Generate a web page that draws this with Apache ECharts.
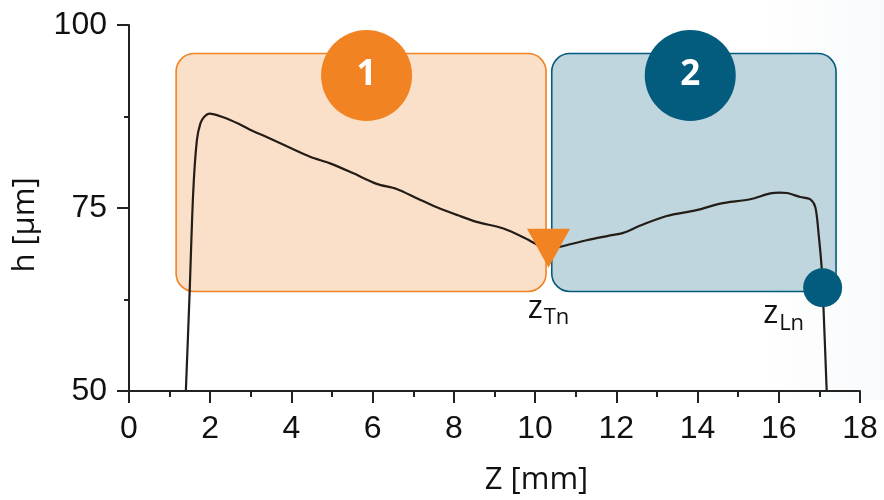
<!DOCTYPE html>
<html>
<head>
<meta charset="utf-8">
<title>Height profile h(Z)</title>
<script src="https://cdn.jsdelivr.net/npm/echarts@6/dist/echarts.min.js"></script>
<style>
  html, body { margin: 0; padding: 0; background: #ffffff; }
  #chart { width: 884px; height: 500px; }
</style>
</head>
<body>
<div id="chart"></div>
<script>
// Measured profile: position along the track Z [mm] and height h [µm]
const profileZ = [1.40, 1.49, 1.58, 1.67, 1.76, 1.86, 1.98, 2.32, 2.70, 2.98, 3.39, 3.90,
  4.46, 4.95, 5.50, 6.10, 6.59, 7.10, 7.58, 8.10, 8.56, 9.22, 9.71, 10.12, 10.33, 10.62,
  11.27, 11.80, 12.17, 12.59, 13.24, 13.98, 14.56, 15.30, 15.79, 16.03, 16.20, 16.53,
  16.77, 16.90, 16.98, 17.06, 17.10, 17.18];
const profileH = [50.0, 63.0, 77.0, 84.2, 86.6, 87.5, 87.9, 87.4, 86.5, 85.7, 84.7, 83.4,
  82.0, 81.1, 79.8, 78.3, 77.6, 76.3, 75.1, 74.0, 73.1, 72.2, 71.0, 69.8, 69.4, 69.7,
  70.6, 71.2, 71.6, 72.6, 73.9, 74.7, 75.6, 76.2, 77.0, 77.1, 77.05, 76.5,
  76.2, 75.1, 71.5, 66.5, 61.5, 50.0];

// Zones 1 and 2 (Z range and h range)
const zoneNames = ['1', '2'];
const zoneStartZ = [1.16, 10.41];
const zoneEndZ = [10.27, 17.41];
const zoneLowH = [63.6, 63.6];
const zoneHighH = [96.1, 96.1];
const zoneBadgeZ = [5.85, 13.82];
const zoneBadgeH = [93.1, 93.1];

// Characteristic points z_Tn (transition) and z_Ln (end)
const zTn = [10.33, 69.5];
const zLn = [17.08, 64.1];

// Axis ticks
const zTicks = { min: 0, max: 18, step: 2 };
const hTicks = { min: 50, max: 100, step: 25 };

const ORANGE = '#F28322';
const ORANGE_FILL = '#FBE0C9';
const BLUE = '#035C7E';
const BLUE_FILL = '#BFD6DE';
const zoneStroke = [ORANGE, BLUE];
const zoneFill = [ORANGE_FILL, BLUE_FILL];

const chart = echarts.init(document.getElementById('chart'), null, { renderer: 'canvas' });

const tickFont = 'Liberation Sans, Arial, sans-serif';
const titleFont = 'Open Sans, sans-serif';

// "z" with a lowered subscript: both tokens top-aligned, subscript pushed down by padding
const subLabelRich = {
  z: { fontFamily: titleFont, fontSize: 32, color: '#111', lineHeight: 34, verticalAlign: 'top' },
  s: { fontFamily: titleFont, fontSize: 22, color: '#111', verticalAlign: 'top', padding: [14, 0, 0, 1] }
};

const option = {
  animation: false,
  backgroundColor: '#ffffff',
  grid: { left: 129, right: 24, top: 25, bottom: 109, containLabel: false, outerBoundsMode: 'none' },
  graphic: [{
    type: 'rect',
    z: -10,
    silent: true,
    shape: { x: 760, y: 0, width: 124, height: 400 },
    style: {
      fill: new echarts.graphic.LinearGradient(0, 0, 1, 0, [
        { offset: 0, color: 'rgba(240,243,246,0)' },
        { offset: 1, color: 'rgba(240,243,246,0.45)' }
      ])
    }
  }],
  xAxis: {
    type: 'value',
    min: zTicks.min, max: zTicks.max, interval: zTicks.step,
    name: 'Z [mm]',
    nameLocation: 'middle',
    nameGap: 74,
    nameTextStyle: { fontFamily: titleFont, fontSize: 31, color: '#111', padding: [0, 0, 0, 84] },
    axisLine: { show: true, onZero: false, lineStyle: { color: '#222', width: 2 } },
    axisTick: { show: true, inside: false, length: 12, lineStyle: { color: '#222', width: 2 } },
    minorTick: { show: true, splitNumber: 2, length: 6, lineStyle: { color: '#222', width: 2 } },
    axisLabel: { fontFamily: tickFont, fontSize: 32, color: '#111', margin: 22 },
    splitLine: { show: false }
  },
  yAxis: {
    type: 'value',
    min: hTicks.min, max: hTicks.max, interval: hTicks.step,
    name: 'h [µm]',
    nameLocation: 'middle',
    nameGap: 88,
    nameTextStyle: { fontFamily: titleFont, fontSize: 31, color: '#111', padding: [0, 34, 0, 0] },
    axisLine: { show: true, onZero: false, lineStyle: { color: '#222', width: 2 } },
    axisTick: { show: true, inside: false, length: 12, lineStyle: { color: '#222', width: 2 } },
    minorTick: { show: true, splitNumber: 2, length: 5, lineStyle: { color: '#222', width: 2 } },
    axisLabel: { fontFamily: tickFont, fontSize: 32, color: '#111', margin: 22 },
    splitLine: { show: false }
  },
  series: [
    {
      // rounded zone boxes
      type: 'custom',
      z: 1,
      silent: true,
      data: zoneNames.map((n, i) => [zoneStartZ[i], zoneEndZ[i], zoneLowH[i], zoneHighH[i], i]),
      encode: { x: [0, 1], y: [2, 3] },
      renderItem: function (params, api) {
        const i = api.value(4);
        const a = api.coord([api.value(0), api.value(3)]);
        const b = api.coord([api.value(1), api.value(2)]);
        return {
          type: 'rect',
          shape: { x: a[0], y: a[1], width: b[0] - a[0], height: b[1] - a[1], r: 18 },
          style: { fill: zoneFill[i], stroke: zoneStroke[i], lineWidth: 1.6 }
        };
      }
    },
    {
      // numbered zone badges
      type: 'scatter',
      z: 2,
      silent: true,
      symbol: 'circle',
      symbolSize: 91,
      data: zoneNames.map((n, i) => ({
        value: [zoneBadgeZ[i], zoneBadgeH[i]],
        name: n,
        itemStyle: { color: zoneStroke[i], opacity: 1 }
      })),
      label: {
        show: true,
        position: 'inside',
        formatter: '{b}',
        fontFamily: titleFont,
        fontWeight: 'bold',
        fontSize: 35,
        color: '#ffffff'
      }
    },
    {
      // height profile
      type: 'line',
      z: 3,
      silent: true,
      data: profileZ.map((z, i) => [z, profileH[i]]),
      showSymbol: false,
      symbol: 'none',
      smooth: 0.3,
      lineStyle: { color: '#231c17', width: 2.2 }
    },
    {
      // transition point z_Tn
      type: 'scatter',
      z: 4,
      silent: true,
      symbol: 'triangle',
      symbolRotate: 180,
      symbolSize: [43, 39],
      itemStyle: { color: ORANGE, opacity: 1 },
      data: [{ value: zTn }],
      label: {
        show: true,
        position: 'bottom',
        distance: 25,
        formatter: '{z|z}{s|Tn}',
        rich: subLabelRich
      }
    },
    {
      // end point z_Ln
      type: 'scatter',
      z: 4,
      silent: true,
      symbol: 'circle',
      symbolSize: 39,
      itemStyle: { color: BLUE, opacity: 1 },
      data: [{ value: zLn }],
      label: {
        show: true,
        position: [-40, 30],
        align: 'left',
        verticalAlign: 'top',
        formatter: '{z|z}{s|Ln}',
        rich: subLabelRich
      }
    }
  ]
};

chart.setOption(option);
</script>
</body>
</html>
